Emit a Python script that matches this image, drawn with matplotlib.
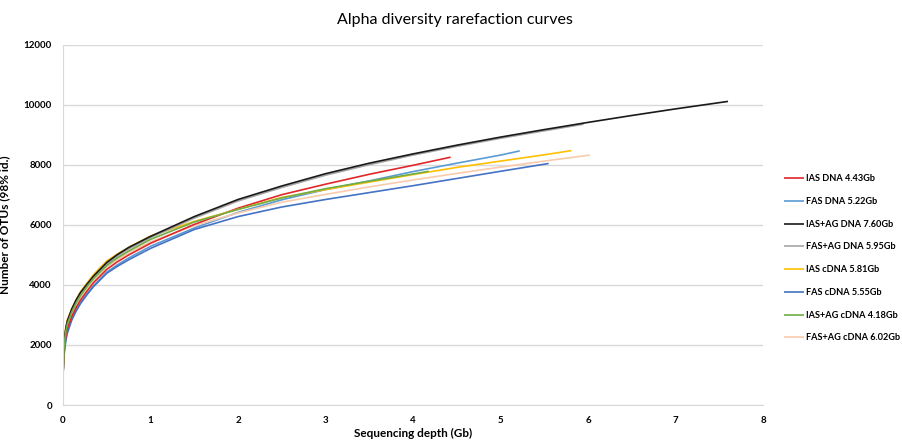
import matplotlib
matplotlib.use("Agg")
import matplotlib.pyplot as plt

plt.rcParams['font.family'] = ['Lato', 'DejaVu Sans']

# Datos (Gb, numero de OTUs)
x_ias_dna = [0, 0.002, 0.01, 0.02, 0.035, 0.05, 0.1, 0.15, 0.2, 0.275, 0.35, 0.5, 0.62, 0.75, 1.0, 1.5, 2.0, 2.5, 3.0, 3.5, 4.0, 4.43]
y_ias_dna = [0, 1150, 1700, 2050, 2350, 2550, 2950, 3250, 3500, 3800, 4080, 4520, 4770, 5000, 5390, 6020, 6560, 7010, 7360, 7690, 7990, 8260]

x_fas_dna = [0, 0.002, 0.01, 0.02, 0.035, 0.05, 0.1, 0.15, 0.2, 0.275, 0.35, 0.5, 0.62, 0.75, 1.0, 1.5, 2.0, 2.5, 3.0, 3.5, 4.0, 4.5, 5.0, 5.22]
y_fas_dna = [0, 1150, 1620, 1950, 2250, 2450, 2870, 3170, 3420, 3710, 3980, 4430, 4670, 4900, 5290, 5900, 6420, 6840, 7180, 7470, 7780, 8060, 8330, 8470]

x_iasag_dna = [0, 0.002, 0.01, 0.02, 0.035, 0.05, 0.1, 0.15, 0.2, 0.275, 0.35, 0.5, 0.62, 0.75, 1.0, 1.5, 2.0, 2.5, 3.0, 3.5, 4.0, 4.5, 5.0, 5.5, 6.0, 6.5, 7.0, 7.6]
y_iasag_dna = [0, 1150, 1950, 2300, 2600, 2800, 3200, 3500, 3750, 4030, 4300, 4750, 5010, 5250, 5620, 6280, 6850, 7300, 7710, 8060, 8370, 8660, 8930, 9180, 9420, 9650, 9870, 10120]

x_fasag_dna = [0, 0.002, 0.01, 0.02, 0.035, 0.05, 0.1, 0.15, 0.2, 0.275, 0.35, 0.5, 0.62, 0.75, 1.0, 1.5, 2.0, 2.5, 3.0, 3.5, 4.0, 4.5, 5.0, 5.5, 5.95]
y_fasag_dna = [0, 1200, 1900, 2250, 2550, 2750, 3150, 3450, 3700, 3980, 4250, 4700, 4960, 5200, 5580, 6230, 6800, 7250, 7660, 8010, 8330, 8620, 8890, 9140, 9360]

x_ias_cdna = [0, 0.002, 0.01, 0.02, 0.035, 0.05, 0.1, 0.15, 0.2, 0.275, 0.35, 0.5, 0.62, 0.75, 1.0, 1.5, 2.0, 2.5, 3.0, 3.5, 4.0, 4.5, 5.0, 5.5, 5.81]
y_ias_cdna = [0, 1200, 2000, 2350, 2650, 2850, 3200, 3510, 3770, 4070, 4350, 4800, 5030, 5250, 5630, 6120, 6520, 6920, 7180, 7430, 7680, 7920, 8130, 8340, 8480]

x_fas_cdna = [0, 0.002, 0.01, 0.02, 0.035, 0.05, 0.1, 0.15, 0.2, 0.275, 0.35, 0.5, 0.62, 0.75, 1.0, 1.5, 2.0, 2.5, 3.0, 3.5, 4.0, 4.5, 5.0, 5.55]
y_fas_cdna = [0, 1100, 1570, 1900, 2200, 2400, 2830, 3130, 3380, 3680, 3950, 4390, 4620, 4840, 5220, 5850, 6280, 6600, 6850, 7080, 7310, 7550, 7790, 8050]

x_iasag_cdna = [0, 0.002, 0.01, 0.02, 0.035, 0.05, 0.1, 0.15, 0.2, 0.275, 0.35, 0.5, 0.62, 0.75, 1.0, 1.5, 2.0, 2.5, 3.0, 3.5, 4.0, 4.18]
y_iasag_cdna = [0, 1150, 1850, 2200, 2500, 2700, 3100, 3400, 3650, 3950, 4220, 4650, 4900, 5130, 5520, 6100, 6520, 6900, 7210, 7460, 7700, 7790]

x_fasag_cdna = [0, 0.002, 0.01, 0.02, 0.035, 0.05, 0.1, 0.15, 0.2, 0.275, 0.35, 0.5, 0.62, 0.75, 1.0, 1.5, 2.0, 2.5, 3.0, 3.5, 4.0, 4.5, 5.0, 5.5, 6.02]
y_fasag_cdna = [0, 1200, 1800, 2150, 2450, 2650, 3050, 3350, 3600, 3890, 4150, 4600, 4840, 5070, 5440, 5980, 6400, 6760, 7020, 7270, 7500, 7720, 7930, 8130, 8330]

etiquetas = ["IAS DNA 4.43Gb", "FAS DNA 5.22Gb", "IAS+AG DNA 7.60Gb", "FAS+AG DNA 5.95Gb",
             "IAS cDNA 5.81Gb", "FAS cDNA 5.55Gb", "IAS+AG cDNA 4.18Gb", "FAS+AG cDNA 6.02Gb"]
colores = ["#E0282B", "#5B9BD5", "#1A1A1A", "#A5A5A5", "#FFC000", "#4472C4", "#70AD47", "#F8CBAD"]

series = [(x_ias_dna, y_ias_dna), (x_fas_dna, y_fas_dna), (x_iasag_dna, y_iasag_dna),
          (x_fasag_dna, y_fasag_dna), (x_ias_cdna, y_ias_cdna), (x_fas_cdna, y_fas_cdna),
          (x_iasag_cdna, y_iasag_cdna), (x_fasag_cdna, y_fasag_cdna)]

fig = plt.figure(figsize=(9.02, 4.40), dpi=100)
ax = fig.add_axes([63 / 902, 1 - 405 / 440, 700 / 902, 360 / 440])

# orden de dibujo: negro por encima del gris, verde visible al inicio
orden = [1, 5, 7, 0, 4, 3, 2, 6]
lineas = {}
for i in orden:
    xs, ys = series[i]
    ln, = ax.plot(xs, ys, color=colores[i], lw=1.2, label=etiquetas[i],
                  solid_capstyle='butt', solid_joinstyle='round')
    lineas[i] = ln

ax.set_xlim(0, 8)
ax.set_ylim(0, 12000)
ax.set_xticks(range(0, 9))
ax.set_yticks(range(0, 12001, 2000))
ax.grid(axis='y', color='#D9D9D9', lw=1)
ax.set_axisbelow(True)
for s in ['top', 'right']:
    ax.spines[s].set_visible(False)
ax.spines['left'].set_color('#D9D9D9')
ax.spines['bottom'].set_color('#D9D9D9')
ax.tick_params(length=0, labelsize=7, pad=8)
for t in ax.get_xticklabels() + ax.get_yticklabels():
    t.set_fontweight('bold')

ax.set_xlabel("Sequencing depth (Gb)", fontsize=8.5, fontweight='bold', labelpad=2)
ax.set_ylabel("Number of OTUs (98% id.)", fontsize=8.5, fontweight='bold', labelpad=10)
fig.text(455 / 902, 1 - 20 / 440, "Alpha diversity rarefaction curves",
         ha='center', va='center', fontsize=11.5)

handles = [lineas[i] for i in range(len(etiquetas))]
fig.legend(handles=handles, labels=etiquetas, loc='upper left',
           bbox_to_anchor=(776 / 902, 1 - 166 / 440), frameon=False,
           labelspacing=1.5, handlelength=2.2, handletextpad=0.15,
           prop={'weight': 'bold', 'size': 6.6})

fig.savefig("out.png", dpi=100)
